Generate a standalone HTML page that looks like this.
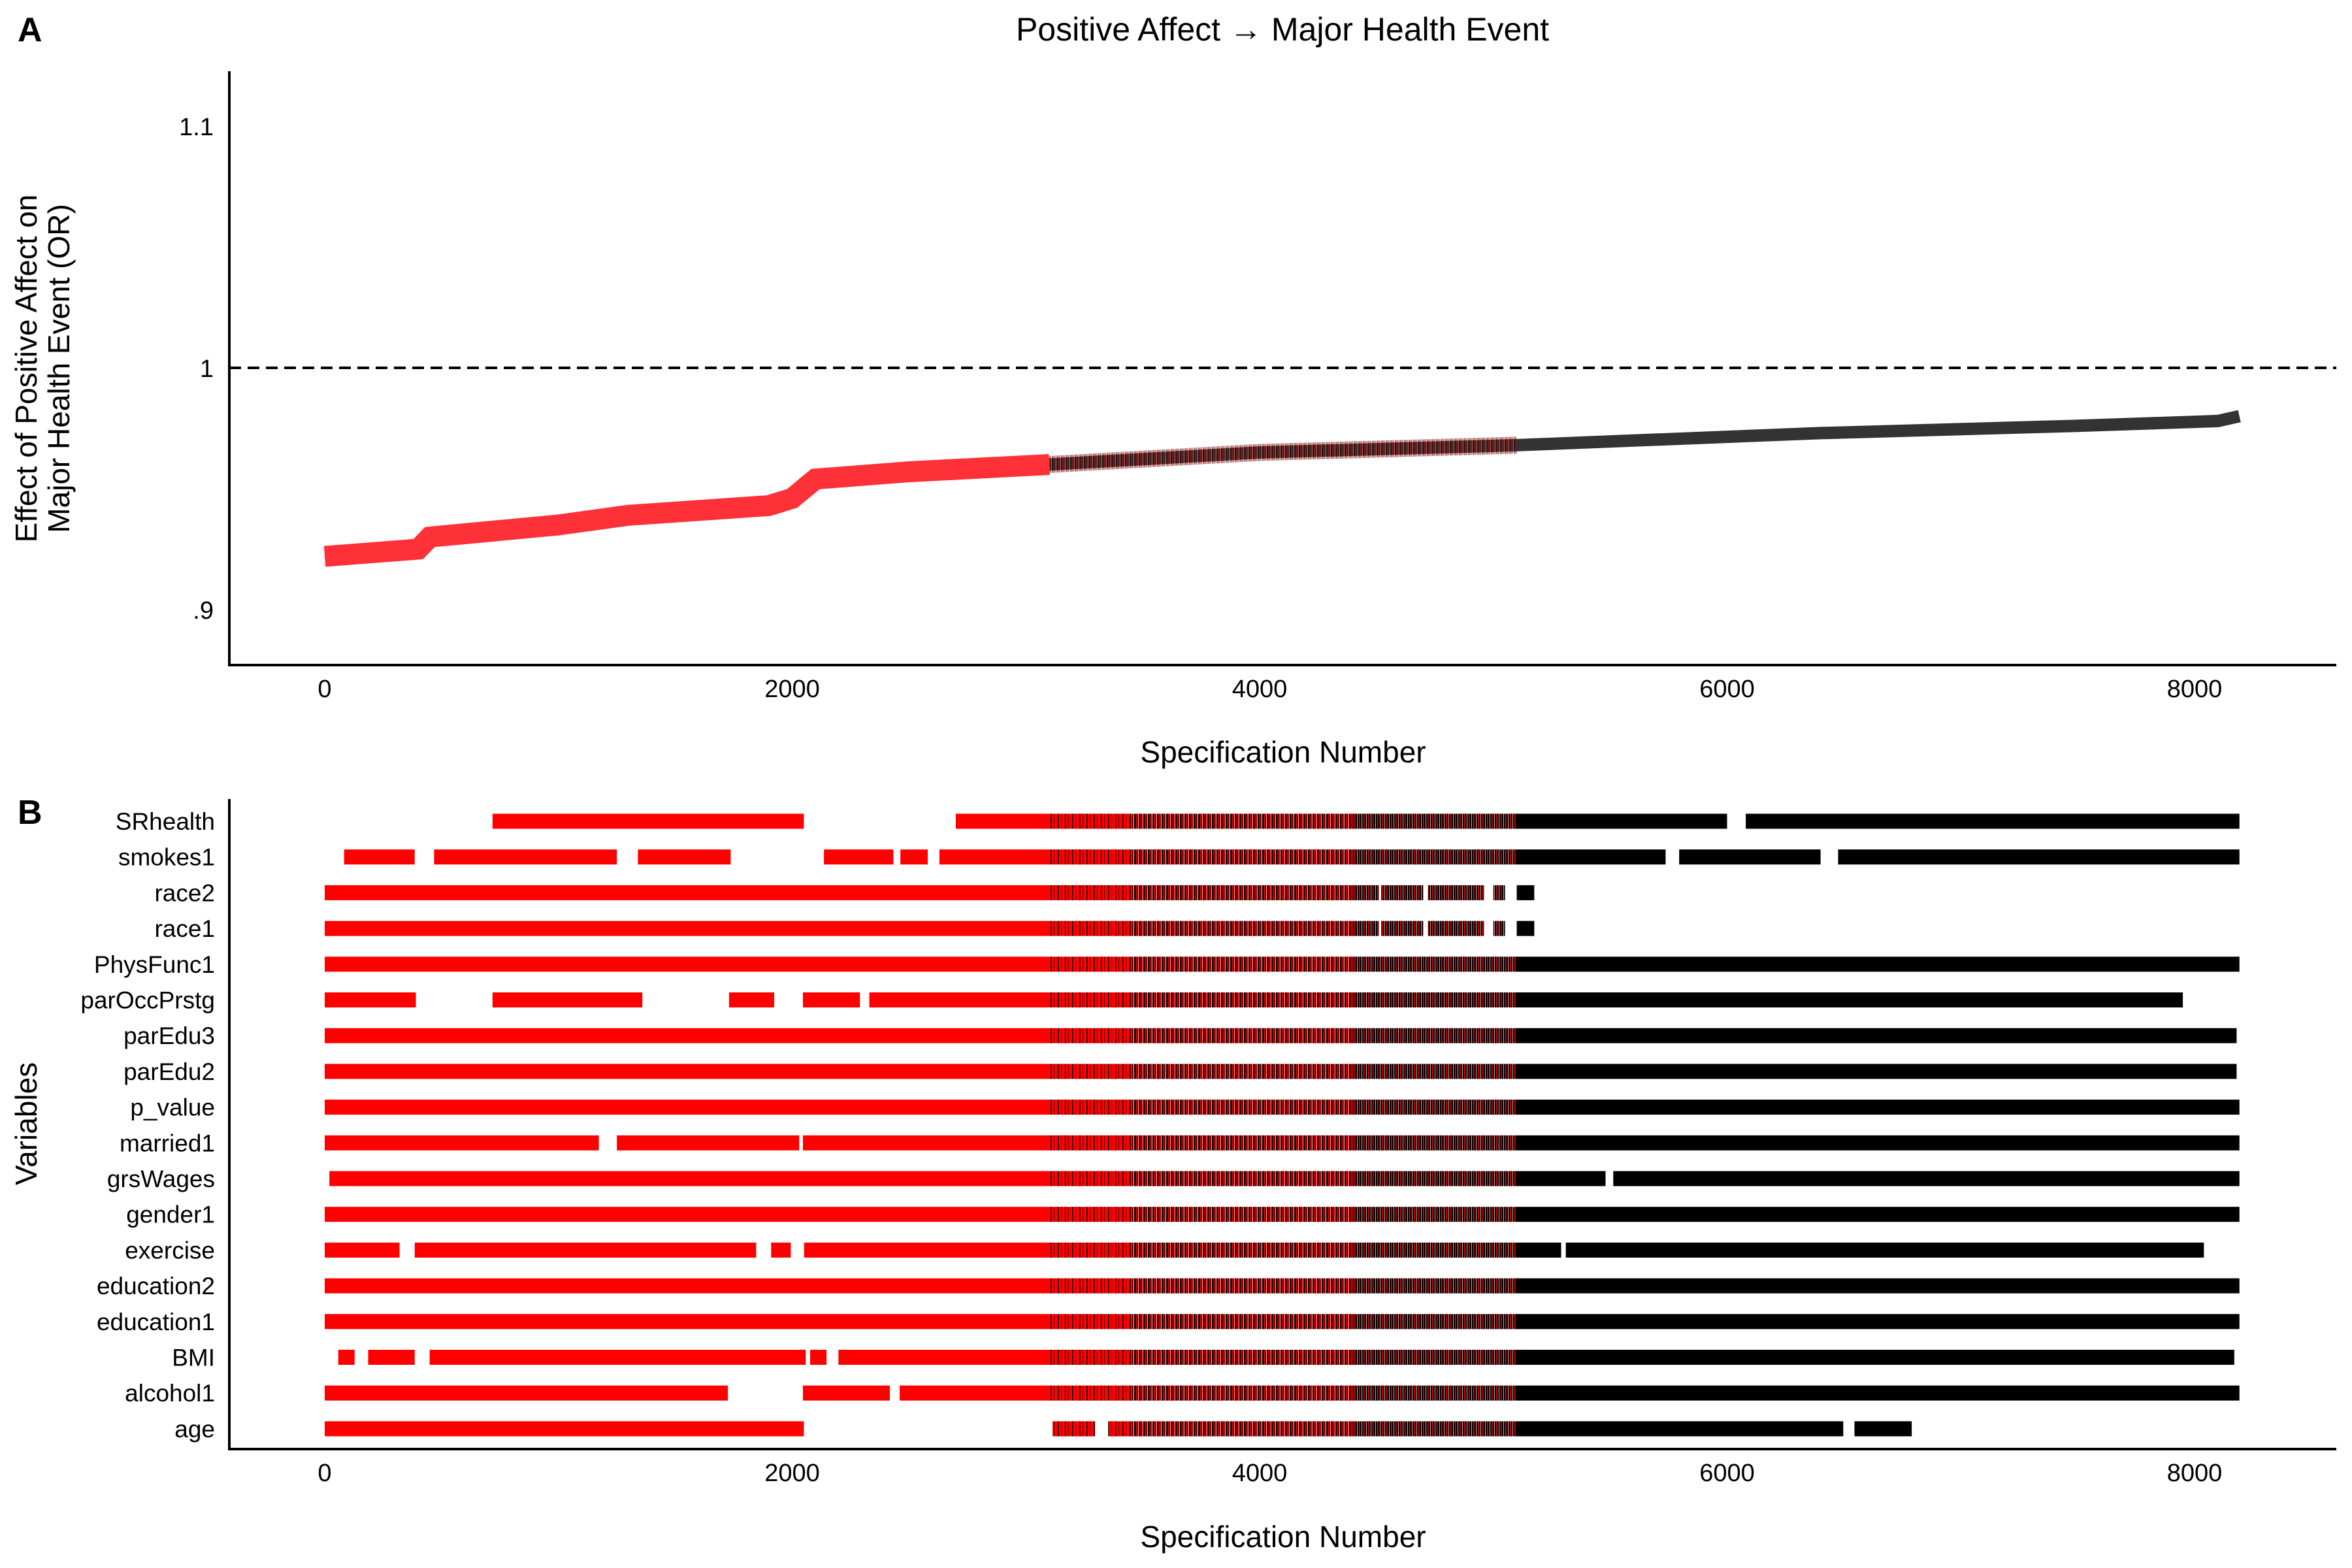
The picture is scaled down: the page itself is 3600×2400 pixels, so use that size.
<!DOCTYPE html>
<html><head><meta charset="utf-8"><style>
html,body{margin:0;padding:0;background:#fff;}
svg{display:block;font-family:"Liberation Sans",Arial,sans-serif;}
</style></head><body>
<svg id="chart" width="3600" height="2400" viewBox="0 0 3600 2400">
<defs>
<pattern id="mixL" patternUnits="userSpaceOnUse" width="11" height="10"><rect width="11" height="10" fill="#ff0000"/><rect x="2" width="1.5" height="10" fill="#000"/><rect x="7" width="1" height="10" fill="#600"/></pattern>
<pattern id="mixA" patternUnits="userSpaceOnUse" width="7" height="10"><rect width="7" height="10" fill="#ff0000"/><rect x="0" width="2.5" height="10" fill="#000"/><rect x="4" width="1" height="10" fill="#300"/><rect x="6" width="0.6" height="10" fill="#fff"/></pattern>
<pattern id="mixB" patternUnits="userSpaceOnUse" width="7" height="10"><rect width="7" height="10" fill="#000"/><rect x="1" width="1.5" height="10" fill="#ff0000"/><rect x="5" width="0.7" height="10" fill="#fff"/></pattern>
</defs>
<text x="27" y="63" font-size="52" font-weight="bold">A</text>
<text x="27" y="1261" font-size="52" font-weight="bold">B</text>
<text x="1963" y="62" font-size="50" text-anchor="middle">Positive Affect → Major Health Event</text>
<g id="topPanel"></g>
<g id="bottomPanel"></g>
</svg>
<script>
const specNums = [0,400,450,1000,1300,1900,2000,2050,2100,2500,3100,4000,5100,6400,7500,8100,8192];
const orValues = [0.922,0.925,0.930,0.935,0.939,0.943,0.946,0.950,0.954,0.957,0.960,0.965,0.968,0.973,0.976,0.978,0.980];
const yTicks = [0.9,1.0,1.1];
const yTickLabels = ['.9','1','1.1'];
const xTicks = [0,2000,4000,6000,8000];
const xTickLabels = ['0','2000','4000','6000','8000'];
const refLine = 1.0;
const redEnd = 3100;
const mixEnd = 5100;
const variables = ['SRhealth','smokes1','race2','race1','PhysFunc1','parOccPrstg','parEdu3','parEdu2','p_value','married1','grsWages','gender1','exercise','education2','education1','BMI','alcohol1','age'];
const segSRhealth = [[718,2050],[2700,6000],[6080,8192]];
const segSmokes1 = [[83,385],[468,1250],[1340,1737],[2136,2433],[2463,2580],[2630,5737],[5795,6400],[6475,8192]];
const segRace2 = [[0,4510],[4520,4700],[4720,4960],[5000,5050],[5100,5175]];
const segRace1 = [[0,4510],[4520,4700],[4720,4960],[5000,5050],[5100,5175]];
const segPhysFunc1 = [[0,8192]];
const segParOcc = [[0,390],[718,1359],[1730,1923],[2046,2290],[2330,7950]];
const segParEdu3 = [[0,8180]];
const segParEdu2 = [[0,8180]];
const segPvalue = [[0,8192]];
const segMarried1 = [[0,1173],[1250,2030],[2046,8192]];
const segGrsWages = [[20,5480],[5513,8192]];
const segGender1 = [[0,8192]];
const segExercise = [[0,320],[385,1846],[1910,1994],[2051,5290],[5310,8040]];
const segEducation2 = [[0,8192]];
const segEducation1 = [[0,8192]];
const segBMI = [[58,128],[186,385],[449,2058],[2077,2147],[2198,8170]];
const segAlcohol1 = [[0,1725],[2046,2418],[2460,8192]];
const segAge = [[0,2050],[3114,3296],[3352,6497],[6545,6790]];
const segments = [segSRhealth,segSmokes1,segRace2,segRace1,segPhysFunc1,segParOcc,segParEdu3,segParEdu2,segPvalue,segMarried1,segGrsWages,segGender1,segExercise,segEducation2,segEducation1,segBMI,segAlcohol1,segAge];

const NS='http://www.w3.org/2000/svg';
function xS(s){return 497 + s*0.35775;}
function yV(v){return 563 - (v-1)*3700;}
function rowY(i){return 1257 + i*54.7;}
function mk(tag,attrs,parent){const e=document.createElementNS(NS,tag);for(const k in attrs)e.setAttribute(k,attrs[k]);parent.appendChild(e);return e;}
const panelTop=document.getElementById('topPanel'), panelBot=document.getElementById('bottomPanel');

let el;
el=mk('line',{x1:351,y1:109,x2:351,y2:1018,stroke:'#000','stroke-width':4},panelTop);
 
el=mk('line',{x1:349,y1:1018,x2:3576,y2:1018,stroke:'#000','stroke-width':4},panelTop);
 
el=mk('line',{x1:351,y1:yV(refLine),x2:3576,y2:yV(refLine),stroke:'#000','stroke-width':4,'stroke-dasharray':'18 10'},panelTop);
 
yTicks.forEach((t,i)=>{const e=mk('text',{x:327,y:yV(t)+14,'font-size':38,'text-anchor':'end'},panelTop);e.textContent=yTickLabels[i];

});
xTicks.forEach((t,i)=>{const e=mk('text',{x:xS(t),y:1067,'font-size':38,'text-anchor':'middle'},panelTop);e.textContent=xTickLabels[i];

});
el=mk('text',{x:1964,y:1167,'font-size':46,'text-anchor':'middle'},panelTop);el.textContent='Specification Number';
 
el=mk('text',{transform:'translate(56,564) rotate(-90)','font-size':46,'text-anchor':'middle'},panelTop);el.textContent='Effect of Positive Affect on';
 
el=mk('text',{transform:'translate(106,564) rotate(-90)','font-size':46,'text-anchor':'middle'},panelTop);el.textContent='Major Health Event (OR)';
 

function pts(from,to){const p=[];for(let i=0;i<specNums.length;i++){if(specNums[i]>=from&&specNums[i]<=to)p.push(xS(specNums[i])+','+yV(orValues[i]));}return p.join(' ');}
el=mk('polyline',{points:pts(redEnd,8192),fill:'none',stroke:'#333','stroke-width':19},panelTop);
 
el=mk('polyline',{points:pts(0,redEnd),fill:'none',stroke:'#ff3138','stroke-width':32},panelTop);
 
el=mk('polyline',{points:pts(redEnd,mixEnd),fill:'none',stroke:'url(#mixA)','stroke-width':26,opacity:0.45},panelTop);
 

el=mk('line',{x1:351,y1:1223,x2:351,y2:2218,stroke:'#000','stroke-width':4},panelBot);
 
el=mk('line',{x1:349,y1:2218,x2:3576,y2:2218,stroke:'#000','stroke-width':4},panelBot);
 
xTicks.forEach((t,i)=>{const e=mk('text',{x:xS(t),y:2267,'font-size':38,'text-anchor':'middle'},panelBot);e.textContent=xTickLabels[i];

});
el=mk('text',{x:1964,y:2368,'font-size':46,'text-anchor':'middle'},panelBot);el.textContent='Specification Number';
 
el=mk('text',{transform:'translate(56,1720) rotate(-90)','font-size':46,'text-anchor':'middle'},panelBot);el.textContent='Variables';
 

const zones=[[0,redEnd,'#ff0000'],[redEnd,3450,'url(#mixL)'],[3450,4400,'url(#mixA)'],[4400,mixEnd,'url(#mixB)'],[mixEnd,9000,'#000']];
variables.forEach((v,i)=>{
  const y=rowY(i);
  const t=mk('text',{x:329,y:y+13,'font-size':37,'text-anchor':'end'},panelBot);t.textContent=v;
  
  
  segments[i].forEach(sg=>{
    zones.forEach(z=>{
      const a=Math.max(sg[0],z[0]), b=Math.min(sg[1],z[1]);
      if(b>a){const r=mk('rect',{x:xS(a),y:y-11.5,width:xS(b)-xS(a),height:23,fill:z[2]},panelBot);
        
        }
    });
  });
});
</script>
</body></html>
